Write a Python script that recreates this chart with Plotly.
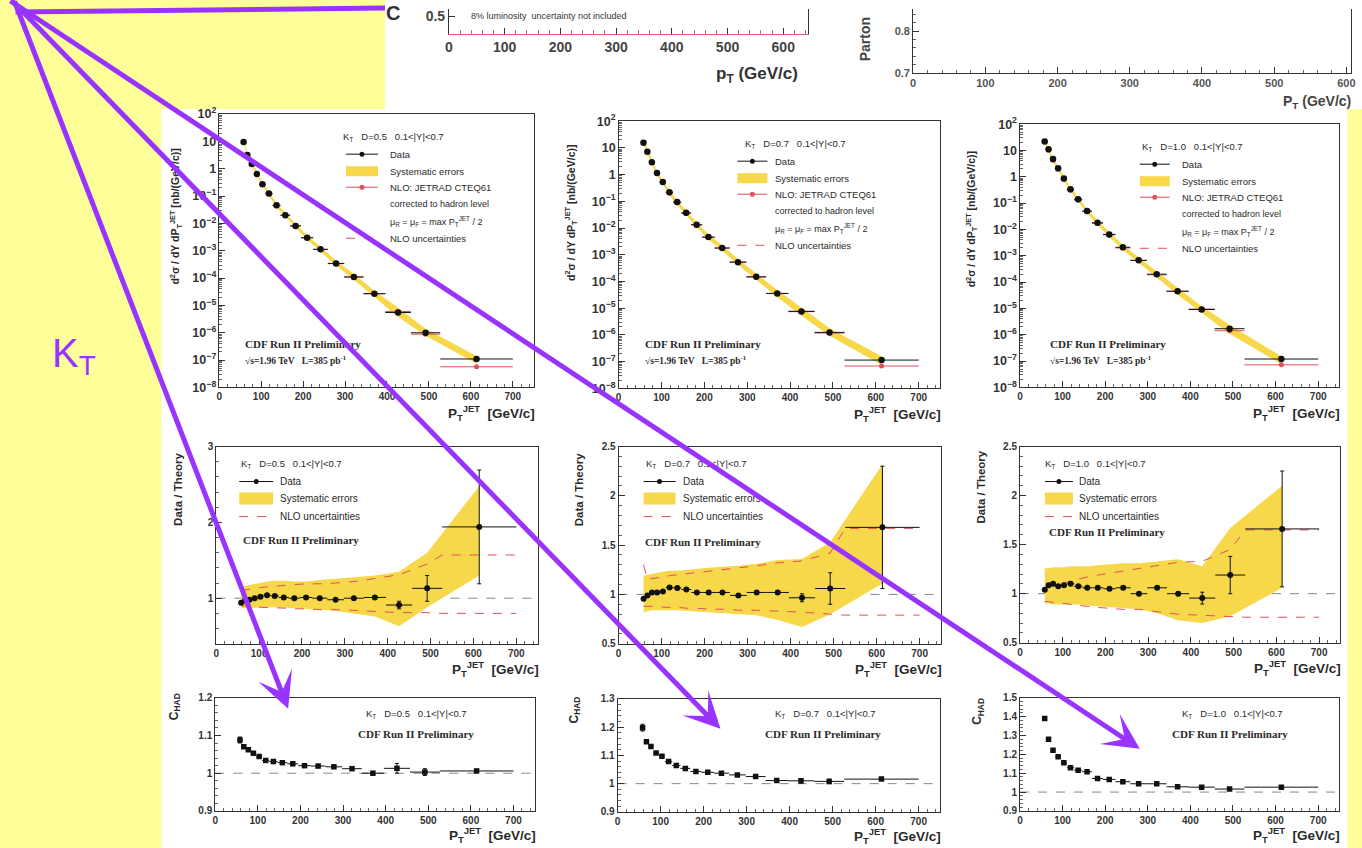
import plotly.graph_objects as go

W, H = 1362, 848

# ---------------- data ----------------
pt_edges = [54, 62, 72, 83, 96, 110, 127, 146, 169, 195, 224, 259, 298, 344, 396, 457, 527, 700]
pt_centers = [58, 67, 77.5, 89.5, 103, 118.5, 136.5, 157.5, 182, 209.5, 241.5, 278.5, 321, 370, 426.5, 492, 613.5]
cone_labels = ["0.5", "0.7", "1.0"]

# inclusive kT jet cross sections [nb/(GeV/c)]
xsec_data_d05 = [9.5, 3.2, 1.5, 0.64, 0.27, 0.125, 0.046, 0.020, 8.1e-3, 3.0e-3, 1.13e-3, 3.4e-4, 1.1e-4, 2.7e-5, 5.5e-6, 1.0e-6, 1.1e-7]
xsec_nlo_d05 = [10.0, 3.3, 1.53, 0.64, 0.265, 0.120, 0.0447, 0.0198, 8.1e-3, 2.97e-3, 1.13e-3, 3.47e-4, 1.1e-4, 2.67e-5, 6.0e-6, 8.9e-7, 5.7e-8]
xsec_data_d07 = [15.4, 7.1, 2.9, 1.15, 0.53, 0.22, 0.094, 0.037, 0.0133, 4.6e-3, 1.8e-3, 5.3e-4, 1.5e-4, 3.6e-5, 7.5e-6, 1.25e-6, 1.15e-7]
xsec_nlo_d07 = [16.1, 7.2, 2.84, 1.13, 0.515, 0.206, 0.088, 0.035, 0.013, 4.5e-3, 1.76e-3, 5.35e-4, 1.47e-4, 3.53e-5, 7.8e-6, 1.18e-6, 6.9e-8]
xsec_data_d10 = [22.0, 11.0, 4.7, 2.1, 0.86, 0.34, 0.14, 0.050, 0.018, 6.5e-3, 2.1e-3, 6.7e-4, 2.0e-4, 4.5e-5, 9.1e-6, 1.7e-6, 1.2e-7]
xsec_nlo_d10 = [21.2, 10.1, 4.27, 1.95, 0.79, 0.31, 0.13, 0.047, 0.017, 6.2e-3, 1.98e-3, 6.7e-4, 1.89e-4, 4.5e-5, 9.5e-6, 1.43e-6, 7.2e-8]

# Data / Theory
ratio_d05 = [0.94, 0.97, 0.98, 1.00, 1.02, 1.04, 1.03, 1.01, 1.00, 1.01, 1.00, 0.98, 1.00, 1.01, 0.91, 1.13, 1.94]
ratio_err_d05 = [0.01, 0.01, 0.01, 0.01, 0.01, 0.01, 0.01, 0.01, 0.01, 0.01, 0.01, 0.01, 0.015, 0.02, 0.05, 0.17, 0.75]
ratio_d07 = [0.956, 0.99, 1.02, 1.02, 1.03, 1.07, 1.065, 1.05, 1.02, 1.02, 1.02, 0.99, 1.02, 1.02, 0.966, 1.06, 1.68]
ratio_err_d07 = [0.01, 0.01, 0.01, 0.01, 0.01, 0.01, 0.01, 0.01, 0.01, 0.01, 0.01, 0.01, 0.015, 0.02, 0.04, 0.16, 0.62]
ratio_d10 = [1.04, 1.085, 1.10, 1.075, 1.085, 1.10, 1.075, 1.06, 1.06, 1.05, 1.06, 1.00, 1.06, 1.00, 0.955, 1.19, 1.66]
ratio_err_d10 = [0.01, 0.01, 0.01, 0.01, 0.01, 0.01, 0.01, 0.01, 0.01, 0.01, 0.01, 0.01, 0.015, 0.02, 0.06, 0.19, 0.59]

# systematic error band (Data / Theory)
sys_hi_d05 = [1.15, 1.16, 1.18, 1.19, 1.20, 1.22, 1.23, 1.23, 1.22, 1.22, 1.24, 1.26, 1.28, 1.30, 1.35, 1.60, 2.48]
sys_lo_d05 = [0.87, 0.87, 0.87, 0.88, 0.88, 0.88, 0.88, 0.88, 0.87, 0.86, 0.85, 0.83, 0.80, 0.76, 0.63, 0.88, 1.30]
sys_hi_d07 = [1.19, 1.20, 1.21, 1.22, 1.23, 1.24, 1.24, 1.25, 1.26, 1.27, 1.28, 1.29, 1.31, 1.35, 1.36, 1.53, 2.32]
sys_lo_d07 = [0.82, 0.83, 0.84, 0.84, 0.84, 0.84, 0.84, 0.84, 0.83, 0.82, 0.81, 0.80, 0.79, 0.74, 0.67, 0.80, 1.11]
sys_hi_d10 = [1.26, 1.26, 1.27, 1.27, 1.27, 1.28, 1.28, 1.28, 1.29, 1.30, 1.31, 1.31, 1.33, 1.35, 1.28, 1.67, 2.10]
sys_lo_d10 = [0.90, 0.90, 0.89, 0.89, 0.89, 0.89, 0.89, 0.88, 0.87, 0.86, 0.85, 0.84, 0.80, 0.73, 0.70, 0.77, 1.06]

# NLO uncertainties (Data / Theory)
nlo_up_d05 = [1.10, 1.11, 1.12, 1.13, 1.14, 1.15, 1.16, 1.17, 1.18, 1.19, 1.19, 1.20, 1.22, 1.26, 1.31, 1.45, 1.57]
nlo_dn_d05 = [0.90, 0.90, 0.89, 0.89, 0.88, 0.88, 0.87, 0.87, 0.86, 0.86, 0.85, 0.85, 0.84, 0.83, 0.81, 0.81, 0.80]
nlo_up_d07 = [1.30, 1.15, 1.16, 1.17, 1.18, 1.19, 1.20, 1.21, 1.22, 1.23, 1.25, 1.27, 1.29, 1.32, 1.34, 1.42, 1.67]
nlo_dn_d07 = [0.88, 0.88, 0.88, 0.88, 0.87, 0.87, 0.87, 0.86, 0.86, 0.85, 0.85, 0.84, 0.84, 0.83, 0.82, 0.80, 0.79]
nlo_up_d10 = [1.05, 1.07, 1.09, 1.10, 1.11, 1.13, 1.15, 1.17, 1.19, 1.21, 1.23, 1.26, 1.29, 1.32, 1.33, 1.45, 1.65]
nlo_dn_d10 = [0.92, 0.92, 0.91, 0.90, 0.90, 0.89, 0.88, 0.87, 0.86, 0.85, 0.84, 0.84, 0.82, 0.79, 0.78, 0.77, 0.76]

# hadronization corrections C_HAD
chad_d05 = [1.088, 1.070, 1.062, 1.053, 1.044, 1.034, 1.031, 1.028, 1.025, 1.020, 1.019, 1.017, 1.012, 1.000, 1.013, 1.003, 1.006]
chad_err_d05 = [0.008, 0.004, 0.003, 0.003, 0.003, 0.002, 0.002, 0.002, 0.002, 0.002, 0.002, 0.002, 0.003, 0.004, 0.013, 0.009, 0.004]
chad_d07 = [1.198, 1.148, 1.131, 1.108, 1.097, 1.078, 1.064, 1.054, 1.043, 1.040, 1.037, 1.031, 1.025, 1.011, 1.010, 1.008, 1.016]
chad_err_d07 = [0.012, 0.005, 0.004, 0.004, 0.003, 0.003, 0.003, 0.002, 0.002, 0.002, 0.002, 0.002, 0.003, 0.004, 0.008, 0.008, 0.004]
chad_d10 = [1.390, 1.280, 1.222, 1.187, 1.155, 1.129, 1.116, 1.108, 1.072, 1.067, 1.055, 1.044, 1.044, 1.028, 1.026, 1.016, 1.026]
chad_err_d10 = [0.008, 0.008, 0.005, 0.004, 0.004, 0.004, 0.003, 0.003, 0.003, 0.003, 0.003, 0.003, 0.003, 0.004, 0.006, 0.006, 0.004]

ratio_ranges = [[0.4, 3.0], [0.5, 2.5], [0.5, 2.5]]
ratio_dticks = [1, 0.5, 0.5]
chad_ranges = [[0.9, 1.2], [0.9, 1.3], [0.9, 1.5]]

xsec_data = [xsec_data_d05, xsec_data_d07, xsec_data_d10]
xsec_nlo = [xsec_nlo_d05, xsec_nlo_d07, xsec_nlo_d10]
ratios = [ratio_d05, ratio_d07, ratio_d10]
ratio_errs = [ratio_err_d05, ratio_err_d07, ratio_err_d10]
sys_his = [sys_hi_d05, sys_hi_d07, sys_hi_d10]
sys_los = [sys_lo_d05, sys_lo_d07, sys_lo_d10]
nlo_ups = [nlo_up_d05, nlo_up_d07, nlo_up_d10]
nlo_dns = [nlo_dn_d05, nlo_dn_d07, nlo_dn_d10]
chads = [chad_d05, chad_d07, chad_d10]
chad_errs = [chad_err_d05, chad_err_d07, chad_err_d10]

# ---------------- styling ----------------
FONT = "Liberation Sans, Arial, Helvetica, sans-serif"
SERIF = "Liberation Serif, Times New Roman, serif"
SLIDE = "#ffff99"
BAND = "#f6d84a"
RED = "#e0505a"
PURPLE = "#9933ff"
INK = "#2a2a2a"

ex_plus = [pt_edges[i + 1] - c for i, c in enumerate(pt_centers)]
ex_minus = [c - pt_edges[i] for i, c in enumerate(pt_centers)]

# the page photograph maps figure pixels (x, y) to about (2.4 + 0.9957 x, 8 + 0.98 y);
# place everything by its wanted position in the photograph
SX, OX, SY, OY = 0.9957, 2.4, 0.98, 8.0


def xp(X):
    return (X - OX) / SX


def yp(Y):
    return (Y - OY) / SY


def fx(X):
    return xp(X) / W


def fy(Y):
    return 1 - yp(Y) / H


layout = dict(width=W, height=H, autosize=False, margin=dict(l=0, r=0, t=0, b=0),
              paper_bgcolor=SLIDE, plot_bgcolor="#ffffff", showlegend=False, hovermode=False)
shapes = []
annotations = []
fig = go.Figure()


def base_axis(**kw):
    d = dict(showline=True, linecolor="#333", linewidth=1, mirror=True, ticks="inside",
             ticklen=6, tickwidth=1, tickcolor="#333", showgrid=False, zeroline=False,
             tickfont=dict(family=FONT, size=10, color="#333", weight="bold"),
             minor=dict(ticks="inside", ticklen=3, tickcolor="#666", showgrid=False))
    d.update(kw)
    return d


panel_count = [0]


def add_panel(px0, px1, ptop, pbot, xkw, ykw):
    panel_count[0] += 1
    i = panel_count[0]
    s = "" if i == 1 else str(i)
    layout["xaxis" + s] = base_axis(domain=[max(0, fx(px0)), min(1, fx(px1))], anchor="y" + s, **xkw)
    layout["yaxis" + s] = base_axis(domain=[max(0, fy(pbot)), min(1, fy(ptop))], anchor="x" + s, **ykw)
    return "x" + s, "y" + s


def text(X, Y, s, size=10, color=INK, family=FONT, xanchor="left", yanchor="middle", angle=0):
    annotations.append(dict(x=fx(X), y=fy(Y), xref="paper", yref="paper", text=s, showarrow=False,
                            xanchor=xanchor, yanchor=yanchor, textangle=angle,
                            font=dict(size=size, color=color, family=family)))


def leg_line(x0, x1, y, color, dash="solid", dot=False, width=1):
    shapes.append(dict(type="line", xref="paper", yref="paper", x0=fx(x0), x1=fx(x1), y0=fy(y), y1=fy(y),
                       line=dict(color=color, width=width, dash=dash), layer="above"))
    if dot:
        xm = (x0 + x1) / 2
        shapes.append(dict(type="circle", xref="paper", yref="paper", x0=fx(xm - 2.5), x1=fx(xm + 2.5),
                           y0=fy(y + 2.5), y1=fy(y - 2.5), fillcolor=color, line=dict(color=color, width=0),
                           layer="above"))


def leg_box(x0, x1, ytop, ybot):
    shapes.append(dict(type="rect", xref="paper", yref="paper", x0=fx(x0), x1=fx(x1), y0=fy(ybot), y1=fy(ytop),
                       fillcolor=BAND, line=dict(width=0), layer="above"))


def unity_line(xr, yr):
    shapes.append(dict(type="line", xref=xr + " domain", yref=yr, x0=0, x1=1, y0=1, y1=1,
                       line=dict(color="#888", width=1, dash="dash"), layer="below"))


# white picture areas on the slide
shapes.append(dict(type="rect", xref="paper", yref="paper", x0=fx(384), x1=1.01, y0=fy(108), y1=1.02,
                   fillcolor="#ffffff", line=dict(width=0), layer="below"))
shapes.append(dict(type="rect", xref="paper", yref="paper", x0=fx(160), x1=fx(1348), y0=-0.02, y1=fy(108),
                   fillcolor="#ffffff", line=dict(width=0), layer="below"))

xcommon = dict(range=[0, 750], dtick=100, tick0=0)
xminor = dict(ticks="inside", ticklen=3, tickcolor="#666", dtick=20, showgrid=False)
XTITLE = "<b>P<sub>T</sub><sup>JET</sup>  [GeV/c]</b>"

# ---------------- row 1 : cross sections ----------------
row1_px = [(218, 533, 113, 386), (618, 940, 120, 387), (1020, 1340, 123, 386)]
row1_ytitle = [(175, 215), (571, 212), (972, 218)]
row1_leg = [  # header x, line x0, x1, text x, cdf x
    (340, 345, 377, 387, 242),
    (743, 737, 767, 773, 642),
    (1140, 1140, 1170, 1180, 1048),
]
for k in range(3):
    px0, px1, pt, pb = row1_px[k]
    xr, yr = add_panel(px0, px1, pt, pb, dict(xcommon, minor=xminor),
                       dict(type="log", range=[-8, 2], dtick=1, exponentformat="power",
                            minor=dict(ticks="inside", ticklen=3, tickcolor="#666", dtick="D1", showgrid=False)))
    d = xsec_data[k]
    hi = [d[i] * sys_his[k][i] / ratios[k][i] for i in range(len(d))]
    lo = [d[i] * sys_los[k][i] / ratios[k][i] for i in range(len(d))]
    fig.add_trace(go.Scatter(x=pt_centers + pt_centers[::-1], y=hi + lo[::-1], fill="toself", fillcolor=BAND,
                             mode="lines", line=dict(width=0, color=BAND), xaxis=xr, yaxis=yr))
    fig.add_trace(go.Scatter(x=pt_centers, y=xsec_nlo[k], mode="markers",
                             marker=dict(color=RED, size=5),
                             error_x=dict(type="data", symmetric=False, array=ex_plus, arrayminus=ex_minus,
                                          color=RED, thickness=1, width=0),
                             xaxis=xr, yaxis=yr))
    fig.add_trace(go.Scatter(x=pt_centers, y=d, mode="markers",
                             marker=dict(color="#111", size=6.5),
                             error_x=dict(type="data", symmetric=False, array=ex_plus, arrayminus=ex_minus,
                                          color="#111", thickness=1, width=0),
                             xaxis=xr, yaxis=yr))
    tx, ty = row1_ytitle[k]
    text(tx, ty, "<b>d<sup>2</sup>σ / dY dP<sub>T</sub><sup>JET</sup> [nb/(GeV/c)]</b>", size=10.5,
         xanchor="center", angle=-90)
    text(px1 + 3, pb + 26, XTITLE, size=13.5, xanchor="right")
    hx, lx0, lx1, tx0, cx = row1_leg[k]
    text(hx, pt + 23, "K<sub>T</sub>   D=" + cone_labels[k] + "   0.1&lt;|Y|&lt;0.7", size=9.5)
    leg_line(lx0, lx1, pt + 40, "#111", dot=True)
    text(tx0, pt + 40, "Data", size=9.5)
    leg_box(lx0, lx1, pt + 52, pt + 62)
    text(tx0, pt + 57, "Systematic errors", size=9.5)
    leg_line(lx0, lx1, pt + 73, RED, dot=True)
    text(tx0, pt + 73, "NLO: JETRAD CTEQ61", size=9.5)
    text(tx0, pt + 90, "corrected to hadron level", size=9)
    text(tx0, pt + 107, "μ<sub>R</sub> = μ<sub>F</sub> = max P<sub>T</sub><sup>JET</sup> / 2", size=9)
    leg_line(lx0, lx1, pt + 124, RED, dash="dash")
    text(tx0, pt + 124, "NLO uncertainties", size=9.5)
    text(cx, 343, "<b>CDF Run II Preliminary</b>", size=11, family=SERIF)
    text(cx, 359, "<b>√s=1.96 TeV   L=385 pb<sup>-1</sup></b>", size=9.5, family=SERIF)

# ---------------- row 2 : Data / Theory ----------------
row2_px = [(215, 537, 445, 642), (618, 941, 445, 642), (1020, 1341, 445, 641)]
row2_ytitle = [(176, 488), (578, 488), (980, 486)]
row2_leg = [(238, 238, 272, 277, 240, 538), (643, 643, 675, 680, 642, 540), (1043, 1045, 1073, 1077, 1047, 530)]
for k in range(3):
    px0, px1, pt, pb = row2_px[k]
    xr, yr = add_panel(px0, px1, pt, pb, dict(xcommon, minor=xminor),
                       dict(range=ratio_ranges[k], dtick=ratio_dticks[k], tick0=0,
                            minor=dict(ticks="inside", ticklen=3, tickcolor="#666",
                                       dtick=ratio_dticks[k] / 5, showgrid=False)))
    unity_line(xr, yr)
    fig.add_trace(go.Scatter(x=pt_centers + pt_centers[::-1], y=sys_his[k] + sys_los[k][::-1], fill="toself",
                             fillcolor=BAND, mode="lines", line=dict(width=0, color=BAND), xaxis=xr, yaxis=yr))
    nx = pt_centers[:-1] + [pt_edges[-2], pt_edges[-1]]
    for arr in (nlo_ups[k], nlo_dns[k]):
        fig.add_trace(go.Scatter(x=nx, y=arr[:-1] + [arr[-1], arr[-1]], mode="lines",
                                 line=dict(color=RED, width=1, dash="dash"), xaxis=xr, yaxis=yr))
    fig.add_trace(go.Scatter(x=pt_centers, y=ratios[k], mode="markers",
                             marker=dict(color="#111", size=6),
                             error_x=dict(type="data", symmetric=False, array=ex_plus, arrayminus=ex_minus,
                                          color="#111", thickness=1, width=0),
                             error_y=dict(type="data", array=ratio_errs[k], color="#111", thickness=1, width=2),
                             xaxis=xr, yaxis=yr))
    tx, ty = row2_ytitle[k]
    text(tx, ty, "<b>Data / Theory</b>", size=11.5, xanchor="center", angle=-90)
    text(px1 + 3, pb + 25, XTITLE, size=13.5, xanchor="right")
    hx, lx0, lx1, tx0, bx, cy = row2_leg[k]
    text(hx, 462, "K<sub>T</sub>   D=" + cone_labels[k] + "   0.1&lt;|Y|&lt;0.7", size=9.5)
    leg_line(lx0, lx1, 480, "#111", dot=True)
    text(tx0, 480, "Data", size=10)
    leg_box(lx0, lx1, 491, 503)
    text(tx0, 497, "Systematic errors", size=10)
    leg_line(lx0, lx1, 515, RED, dash="dash")
    text(tx0, 515, "NLO uncertainties", size=10)
    text(bx, cy, "<b>CDF Run II Preliminary</b>", size=11, family=SERIF)

# ---------------- row 3 : C_HAD ----------------
row3_px = [(214, 534, 696, 809), (617, 940, 697, 810), (1020, 1340, 696, 809)]
row3_ytitle = [(173, 705), (574, 708), (978, 710)]
row3_leg = [(363, 355), (773, 763), (1180, 1170)]
for k in range(3):
    px0, px1, pt, pb = row3_px[k]
    xr, yr = add_panel(px0, px1, pt, pb, dict(xcommon, minor=xminor),
                       dict(range=chad_ranges[k], dtick=0.1, tick0=0,
                            minor=dict(ticks="inside", ticklen=3, tickcolor="#666", dtick=0.02, showgrid=False)))
    unity_line(xr, yr)
    fig.add_trace(go.Scatter(x=pt_centers, y=chads[k], mode="markers",
                             marker=dict(color="#111", size=5.5, symbol="square"),
                             error_x=dict(type="data", symmetric=False, array=ex_plus, arrayminus=ex_minus,
                                          color="#111", thickness=1, width=0),
                             error_y=dict(type="data", array=chad_errs[k], color="#111", thickness=1, width=2),
                             xaxis=xr, yaxis=yr))
    tx, ty = row3_ytitle[k]
    text(tx, ty, "<b>C<sub>HAD</sub></b>", size=12, xanchor="center", angle=-90)
    text(px1 + 3, pb + 24, XTITLE, size=13.5, xanchor="right")
    hx, cx = row3_leg[k]
    text(hx, 712, "K<sub>T</sub>   D=" + cone_labels[k] + "   0.1&lt;|Y|&lt;0.7", size=9.5)
    text(cx, 732, "<b>CDF Run II Preliminary</b>", size=11, family=SERIF)

# ---------------- top partial pictures (cut off by the slide edge) ----------------
# visible part starts at photo row OY; 0.5 sits 18 px above the axis at row 33
xr, yr = add_panel(448, 808, 0, 33,
                   dict(range=[0, 645], dtick=100, tick0=0, linecolor="#d9607a", mirror=False,
                        tickfont=dict(family=FONT, size=14, color="#444", weight="bold"),
                        minor=dict(ticks="inside", ticklen=4, tickcolor="#d9607a", dtick=20)),
                   dict(range=[0.42, 0.42 + 0.08 * (33 - OY) / 18], tickvals=[0.5], ticktext=["0.5"],
                        tickfont=dict(family=FONT, size=14, color="#444", weight="bold"),
                        minor=dict(ticks="")))
fig.add_trace(go.Scatter(x=[None], y=[None], mode="markers", xaxis=xr, yaxis=yr))
text(468, 15, "8% luminosity  uncertainty not included", size=9, color="#333")
text(757, 74, "<b>p<sub>T</sub> (GeV/c)</b>", size=17, xanchor="center", color="#333")
text(392, 12, "<b>C</b>", size=20, xanchor="center", color="#333")

# 0.7 at row 72, 0.8 at row 30
xr, yr = add_panel(913, 1352, 0, 72,
                   dict(range=[0, 607], dtick=100, tick0=0, mirror=False,
                        tickfont=dict(family=FONT, size=11, color="#555", weight="bold"),
                        minor=dict(ticks="inside", ticklen=3, tickcolor="#666", dtick=20)),
                   dict(range=[0.7, 0.7 + 0.1 * (72 - OY) / 42], dtick=0.1, tick0=0,
                        tickfont=dict(family=FONT, size=11, color="#555", weight="bold"),
                        minor=dict(ticks="inside", ticklen=3, tickcolor="#666", dtick=0.02)))
fig.add_trace(go.Scatter(x=[None], y=[None], mode="markers", xaxis=xr, yaxis=yr))
text(865, 38, "<b>Parton</b>", size=14, xanchor="center", angle=-90, color="#444")
text(1354, 101, "<b>P<sub>T</sub> (GeV/c)</b>", size=14, xanchor="right", color="#444")

# ---------------- purple arrows and K_T label ----------------
arrow_tail = (14, 11)
arrow_tips = [(287, 707), (720, 727), (1140, 747)]
shapes.append(dict(type="line", xref="paper", yref="paper", x0=fx(arrow_tail[0]), y0=fy(arrow_tail[1]),
                   x1=fx(384), y1=fy(7), line=dict(color=PURPLE, width=5), layer="above"))
for tx, ty in arrow_tips:
    annotations.append(dict(x=fx(tx), y=fy(ty), xref="paper", yref="paper", text="", showarrow=True,
                            ax=xp(arrow_tail[0]) - xp(tx), ay=yp(arrow_tail[1]) - yp(ty),
                            axref="pixel", ayref="pixel",
                            arrowhead=3, arrowsize=1.2, arrowwidth=5, arrowcolor=PURPLE, standoff=0))
text(48, 355, "K<sub>T</sub>", size=40, color=PURPLE)

layout["shapes"] = shapes
layout["annotations"] = annotations
fig.update_layout(**layout)
fig.write_html("out.html")
